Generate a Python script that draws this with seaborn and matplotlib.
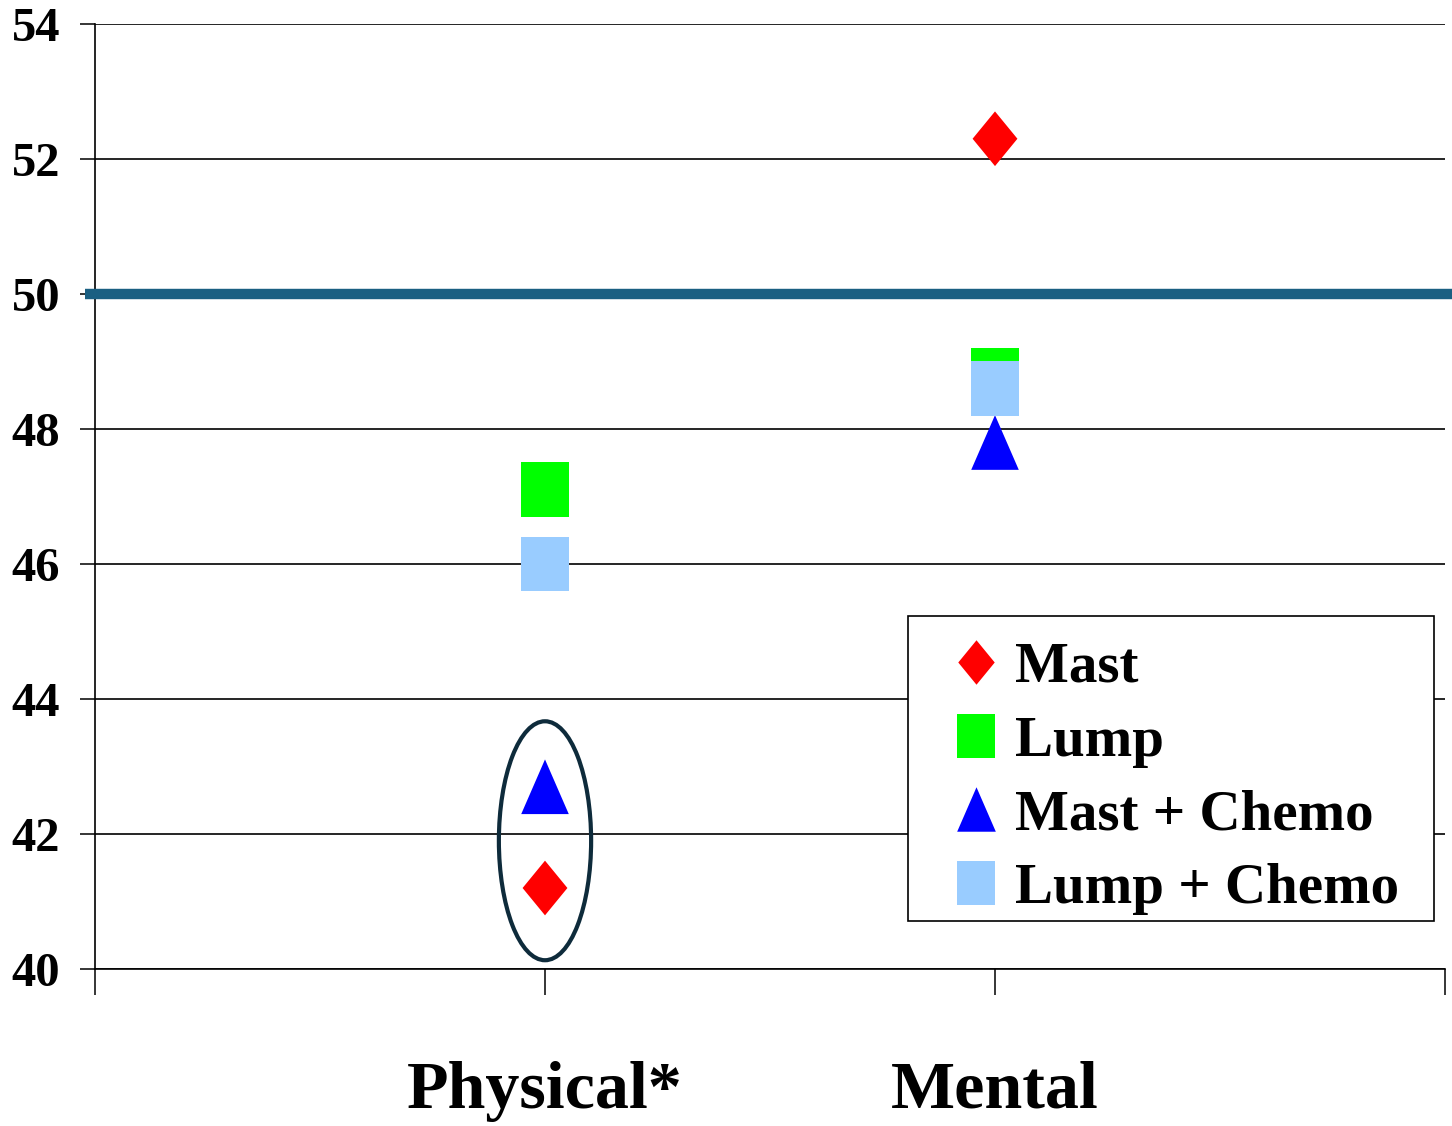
import matplotlib
matplotlib.use("Agg")
import matplotlib.pyplot as plt
from matplotlib.lines import Line2D
from matplotlib.patches import Ellipse, Rectangle
import numpy as np
import pandas as pd
import seaborn as sns

# Scale scores by component and treatment group
categories = ["Physical*", "Mental"]
groups = ["Mast", "Lump", "Mast + Chemo", "Lump + Chemo"]
mast = [41.2, 52.3]
lump = [47.1, 48.8]
mast_chemo = [42.7, 47.8]
lump_chemo = [46.0, 48.6]
norm_value = 50
y_ticks = [40, 42, 44, 46, 48, 50, 52, 54]

colors = {"Mast": "#FF0000", "Lump": "#00FF00",
          "Mast + Chemo": "#0000FF", "Lump + Chemo": "#99CCFF"}

# slightly tall marker shapes
markers = {
    "Mast": [(0, 1), (0.82, 0), (0, -1), (-0.82, 0), (0, 1)],
    "Lump": [(-0.87, -1), (0.87, -1), (0.87, 1), (-0.87, 1), (-0.87, -1)],
    "Mast + Chemo": [(0, 1), (0.87, -1), (-0.87, -1), (0, 1)],
    "Lump + Chemo": [(-0.87, -1), (0.87, -1), (0.87, 1), (-0.87, 1), (-0.87, -1)],
}

series = [mast, lump, mast_chemo, lump_chemo]
df = pd.DataFrame({
    "component": np.tile(categories, len(groups)),
    "group": np.repeat(groups, len(categories)),
    "score": np.concatenate(series),
})

sns.set_style("white")
plt.rcParams["font.family"] = ["Liberation Serif", "DejaVu Serif"]
plt.rcParams["font.weight"] = "bold"
plt.rcParams["text.color"] = "black"
plt.rcParams["xtick.color"] = "black"
plt.rcParams["ytick.color"] = "black"

W, H = 1452, 1126
fig = plt.figure(figsize=(W / 100, H / 100), dpi=100)
ax = fig.add_axes([95 / W, 1 - 969 / H, (1445 - 95) / W, (969 - 24) / H])

sns.scatterplot(data=df, x="component", y="score", hue="group", style="group",
                palette=colors, markers=markers, hue_order=groups,
                style_order=groups, s=1550, linewidth=0, legend=False,
                ax=ax, zorder=5)

ax.set_xlim(-1, 2)
ax.set_ylim(40, 54)
ax.set_xticks([-1, 0, 1, 2])
ax.set_xticklabels(["", categories[0], categories[1], ""])
ax.set_yticks(y_ticks)
ax.set_yticklabels([str(t) for t in y_ticks])
ax.set_xlabel("")
ax.set_ylabel("")

ax.yaxis.grid(True, color="black", lw=1.2, zorder=1)
ax.xaxis.grid(False)
ax.set_axisbelow(True)
for side in ["top", "right"]:
    ax.spines[side].set_visible(False)
for side in ["left", "bottom"]:
    ax.spines[side].set_color("black")
    ax.spines[side].set_linewidth(1.2)

ax.tick_params(axis="y", direction="out", length=11, width=1.1, color="black",
               labelcolor="black", labelsize=35, pad=14, left=True)
ax.tick_params(axis="x", direction="out", length=19, width=1.1, color="black",
               labelcolor="black", labelsize=49, pad=47, bottom=True)

# reference norm line
ax.axhline(norm_value, xmin=-0.0075, xmax=1.01, color="#1A5F82", lw=7.5,
           solid_capstyle="butt", clip_on=False, zorder=3)

# ring around the significant pair
ax.add_patch(Ellipse((0, 41.9), width=0.205, height=3.54, fill=False,
                     edgecolor="#0E2B3B", lw=3, zorder=6))

# legend box: fixed white frame, entries placed inside it
ax.add_patch(Rectangle((908 / W, 1 - 921 / H), (1434 - 908) / W,
                       (921 - 616) / H, transform=fig.transFigure,
                       facecolor="white", edgecolor="black", lw=1.2,
                       clip_on=False, zorder=9))

handles = [Line2D([], [], ls="none", marker=markers[g], markersize=32,
                  markerfacecolor=colors[g], markeredgewidth=0) for g in groups]
leg = ax.legend(handles, groups, loc="upper left",
                bbox_to_anchor=(939 / W, 1 - 642 / H),
                bbox_transform=fig.transFigure, borderaxespad=0,
                prop={"size": 41, "weight": "bold"}, frameon=False,
                handlelength=1.3, handletextpad=0.03, borderpad=0,
                labelspacing=0.38)
leg.set_zorder(10)

fig.savefig("out.png", dpi=100, facecolor="white")
